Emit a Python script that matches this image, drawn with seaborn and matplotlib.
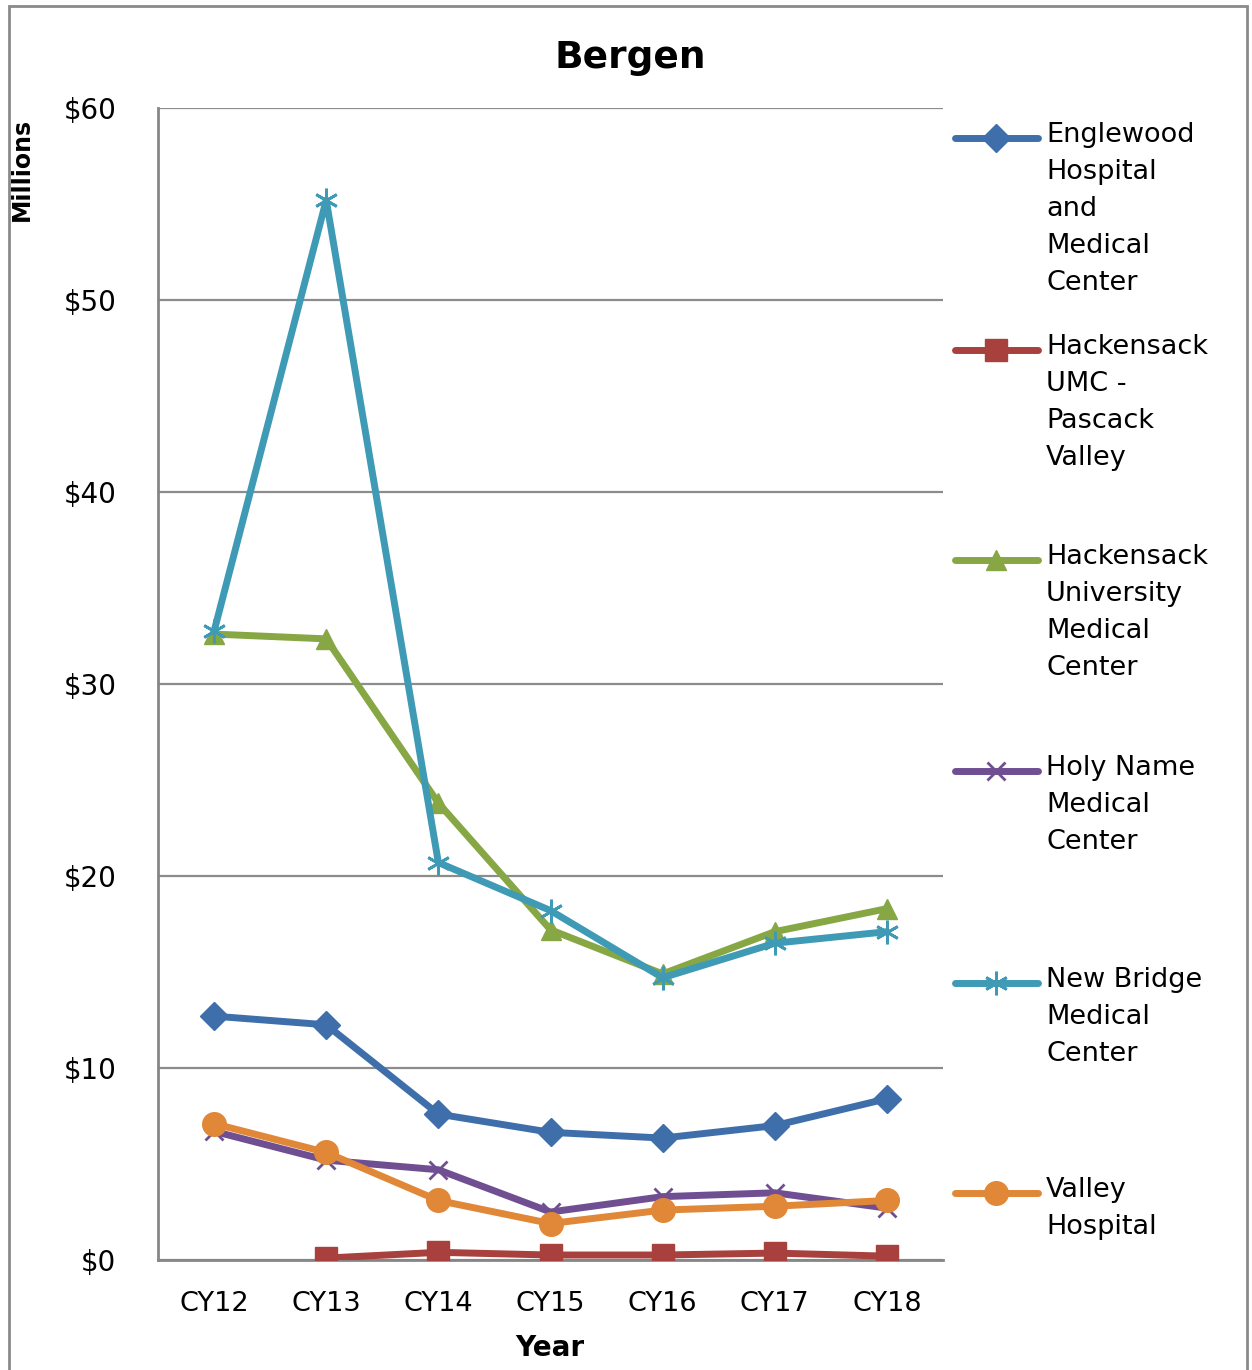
import matplotlib
matplotlib.use('Agg')
import matplotlib.pyplot as plt
import seaborn as sns
import numpy as np
import pandas as pd
from matplotlib.lines import Line2D
from matplotlib.patches import Rectangle

# Data (millions of dollars)
years = ['CY12', 'CY13', 'CY14', 'CY15', 'CY16', 'CY17', 'CY18']
hospitals = ['Englewood Hospital and Medical Center',
             'Hackensack UMC - Pascack Valley',
             'Hackensack University Medical Center',
             'Holy Name Medical Center',
             'New Bridge Medical Center',
             'Valley Hospital']
legend_labels = ['Englewood\nHospital\nand\nMedical\nCenter',
                 'Hackensack\nUMC -\nPascack\nValley',
                 'Hackensack\nUniversity\nMedical\nCenter',
                 'Holy Name\nMedical\nCenter',
                 'New Bridge\nMedical\nCenter',
                 'Valley\nHospital']
englewood = [12.7, 12.25, 7.6, 6.65, 6.35, 7.0, 8.4]
pascack = [np.nan, 0.1, 0.4, 0.26, 0.26, 0.36, 0.2]
hackensack = [32.6, 32.35, 23.8, 17.2, 14.9, 17.1, 18.3]
holy_name = [6.7, 5.2, 4.7, 2.5, 3.3, 3.5, 2.7]
new_bridge = [32.75, 55.2, 20.7, 18.2, 14.7, 16.5, 17.1]
valley = [7.1, 5.6, 3.1, 1.9, 2.6, 2.8, 3.1]
series = [englewood, pascack, hackensack, holy_name, new_bridge, valley]

colors = ['#3F6FAA', '#A8403D', '#86A744', '#6F4F92', '#3E9AB5', '#E08738']
markers = ['D', 's', '^', 'x', (6, 2, 0), 'o']
msizes = [14, 16, 15, 13, 17, 17]

sns.set_style('white')
plt.rcParams['font.family'] = ['DejaVu Sans']
plt.rcParams['text.color'] = 'black'
plt.rcParams['xtick.color'] = 'black'
plt.rcParams['ytick.color'] = 'black'

W, H = 1252, 1370
fig = plt.figure(figsize=(W / 100, H / 100), dpi=100)
ax = fig.add_axes([158 / W, 1 - 1260 / H, (943 - 158) / W, (1260 - 108) / H])

handles = []
for name, vals, c, m, ms in zip(hospitals, series, colors, markers, msizes):
    df = pd.DataFrame({'Year': years, 'Value': vals}).dropna()
    df['x'] = [years.index(y) for y in df['Year']]
    sns.lineplot(data=df, x='x', y='Value', color=c, marker=m, markersize=ms,
                 markeredgecolor=c, markerfacecolor=c,
                 markeredgewidth=2 if (m == 'x' or isinstance(m, tuple)) else 1,
                 linewidth=5, sort=False, ax=ax, zorder=3)
    handles.append(ax.lines[-1])

ax.set_xlim(-0.5, 6.5)
ax.set_ylim(0, 60)
ax.set_yticks(range(0, 61, 10))
ax.set_yticklabels(['$%d' % v for v in range(0, 61, 10)], fontsize=20)
ax.set_xticks(range(len(years)))
ax.set_xticklabels(years, fontsize=19.5)
ax.set_xticks(np.arange(-0.5, 7, 1), minor=True)
ax.tick_params(axis='x', which='major', length=0, pad=22)
ax.tick_params(axis='x', which='minor', length=9, width=1.5, color='#868686', direction='out')
ax.tick_params(axis='y', length=10, width=1.5, color='#868686', direction='out', pad=20)
ax.yaxis.grid(True, color='#8c8c8c', linewidth=1.6)
ax.set_axisbelow(True)
for s in ['top', 'right']:
    ax.spines[s].set_visible(False)
for s in ['left', 'bottom']:
    ax.spines[s].set_color('#868686')
    ax.spines[s].set_linewidth(2)
ax.set_xlabel('')
ax.set_ylabel('')

fig.text(550 / W, 1 - 1348 / H, 'Year', ha='center', va='center', fontsize=20, fontweight='bold')
fig.text(22 / W, 1 - 118 / H, 'Millions', rotation=90, ha='center', va='top', fontsize=17,
         fontweight='bold', family=['Liberation Sans Narrow', 'DejaVu Sans'])
fig.text(630 / W, 1 - 58 / H, 'Bergen', ha='center', va='center', fontsize=27, fontweight='bold')

# legend, one entry per series, handle beside the first text line
entry_y = [138, 350, 560, 771, 983, 1193]
for h, lab, yp in zip(handles, legend_labels, entry_y):
    fy = 1 - yp / H
    ln = Line2D([955 / W, 1038 / W], [fy, fy], transform=fig.transFigure, color=h.get_color(),
                linewidth=5, solid_capstyle='round')
    mk = Line2D([996 / W], [fy], transform=fig.transFigure, color=h.get_color(), marker=h.get_marker(),
                markersize=h.get_markersize(), markeredgecolor=h.get_color(),
                markeredgewidth=h.get_markeredgewidth(), linestyle='none')
    fig.add_artist(ln)
    fig.add_artist(mk)
    fig.text(1046 / W, fy + 16 / H, lab, ha='left', va='top', fontsize=19.5, linespacing=1.55)

fig.add_artist(Rectangle((9 / W, -0.01), (1247 - 9) / W, 1 - 6 / H + 0.01, transform=fig.transFigure,
                         fill=False, edgecolor='#8a8a8a', linewidth=2))

fig.savefig('out.png', dpi=100)
